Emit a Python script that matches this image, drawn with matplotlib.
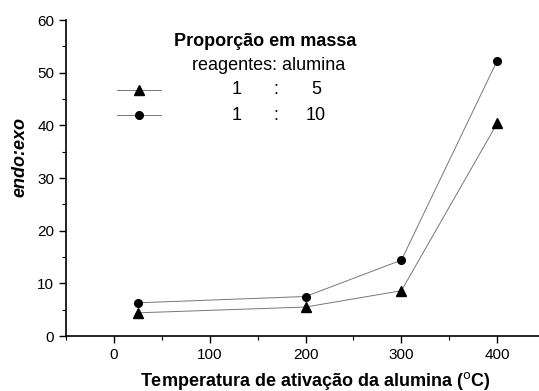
import matplotlib
matplotlib.use("Agg")
import matplotlib.pyplot as plt
from matplotlib.ticker import MultipleLocator

plt.rcParams['font.family'] = ['Liberation Sans', 'DejaVu Sans']

temps = [25, 200, 300, 400]
ratio_1_5 = [4.4, 5.5, 8.6, 40.4]
ratio_1_10 = [6.3, 7.5, 14.4, 52.3]
xticks = [0, 100, 200, 300, 400]
yticks = [0, 10, 20, 30, 40, 50, 60]

fig = plt.figure(figsize=(5.39, 3.91), dpi=100)
ax = fig.add_axes([66/539, 55/391, 1 - 66/539, 316/391])

l1, = ax.plot(temps, ratio_1_5, color='#777777', lw=0.7, marker='^', ms=7,
              mfc='black', mec='black')
l2, = ax.plot(temps, ratio_1_10, color='#777777', lw=0.7, marker='o', ms=5.5,
              mfc='black', mec='black')

ax.set_xlim(-50, 443.6)
ax.set_ylim(0, 60)
ax.set_xticks(xticks)
ax.set_yticks(yticks)
ax.xaxis.set_minor_locator(MultipleLocator(50))
ax.yaxis.set_minor_locator(MultipleLocator(5))
ax.tick_params(which='major', direction='out', length=5, width=1, labelsize=11)
ax.tick_params(which='minor', direction='out', length=3, width=0.8)
for s in ['top', 'right']:
    ax.spines[s].set_visible(False)
for s in ['left', 'bottom']:
    ax.spines[s].set_linewidth(1.2)

ax.set_xlabel('Temperatura de ativação da alumina ($^{\\mathrm{o}}$C)', fontsize=13,
              fontweight='bold')
ax.xaxis.set_label_coords((315-66)/473, -0.107)
ax.set_ylabel('endo:exo', fontsize=13, fontweight='bold', fontstyle='italic')
ax.yaxis.set_label_coords(-0.079, (336-157)/316)

leg = ax.legend([l1, l2], ['', ''], loc='upper left',
                bbox_to_anchor=((110-66)/473, (336-77)/316),
                frameon=False, handlelength=3.2, labelspacing=0.75,
                borderpad=0, handletextpad=0)

def fx(px):
    return (px - 66) / 473

def fy(py):
    return (336 - py) / 316

ax.text(fx(265), fy(41), 'Proporção em massa', fontsize=13, fontweight='bold',
        ha='center', va='center', transform=ax.transAxes)
ax.text(fx(269), fy(66), 'reagentes: alumina', fontsize=13,
        ha='center', va='center', transform=ax.transAxes)
for row_y, right in [(90, '5'), (115, '10')]:
    ax.text(fx(237), fy(row_y), '1', fontsize=13, ha='center', va='center',
            transform=ax.transAxes)
    ax.text(fx(276), fy(row_y), ':', fontsize=13, ha='center', va='center',
            transform=ax.transAxes)
    ax.text(fx(316), fy(row_y), right, fontsize=13, ha='center', va='center',
            transform=ax.transAxes)

fig.savefig('out.png', dpi=100)
